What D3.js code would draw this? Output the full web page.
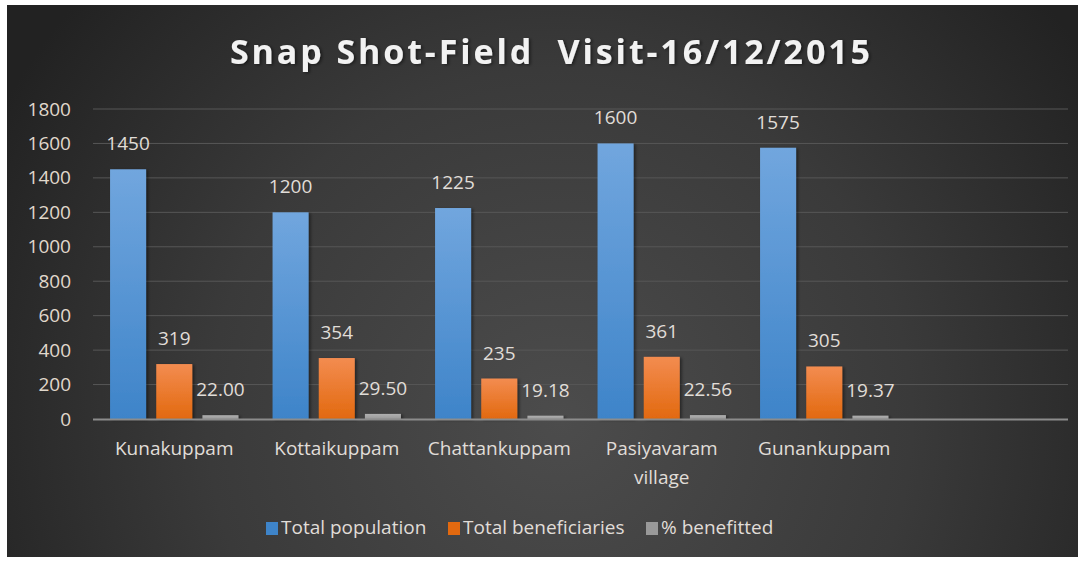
<!DOCTYPE html>
<html>
<head>
<meta charset="utf-8">
<script src="https://cdn.jsdelivr.net/npm/d3@7"></script>
<style>
  html, body { margin: 0; padding: 0; background: #fff; }
  svg text { font-family: "Open Sans", "DejaVu Sans", sans-serif; }
</style>
</head>
<body>
<div id="chart"></div>
<script>
// data
const categories = ["Kunakuppam", "Kottaikuppam", "Chattankuppam", "Pasiyavaram village", "Gunankuppam", ""];
const seriesNames = ["Total population", "Total beneficiaries", "% benefitted"];
const totalPopulation = [1450, 1200, 1225, 1600, 1575];
const totalBeneficiaries = [319, 354, 235, 361, 305];
const pctBenefitted = [22.00, 29.50, 19.18, 22.56, 19.37];
const yTicks = [0, 200, 400, 600, 800, 1000, 1200, 1400, 1600, 1800];
const title = "Snap Shot-Field  Visit-16/12/2015";

const W = 1083, H = 562;
const svg = d3.select("#chart").append("svg")
  .attr("width", W).attr("height", H);

const defs = svg.append("defs");

// 1) background gradient
const bg = defs.append("radialGradient")
  .attr("id", "bg").attr("gradientUnits", "userSpaceOnUse")
  .attr("cx", 560).attr("cy", 420).attr("r", 640);
bg.append("stop").attr("offset", "0%").attr("stop-color", "#4c4c4c");
bg.append("stop").attr("offset", "55%").attr("stop-color", "#3a3a3a");
bg.append("stop").attr("offset", "100%").attr("stop-color", "#222222");

// bar gradients
const barColors = [["#71a6de", "#3e84c9"], ["#f38c50", "#e2690f"], ["#b0b0b0", "#999999"]];
barColors.forEach((c, i) => {
  const g = defs.append("linearGradient").attr("id", "bar" + i)
    .attr("x1", 0).attr("y1", 0).attr("x2", 0).attr("y2", 1);
  g.append("stop").attr("offset", "0%").attr("stop-color", c[0]);
  g.append("stop").attr("offset", "100%").attr("stop-color", c[1]);
});

const shadow = defs.append("filter").attr("id", "shadow")
  .attr("x", "-20%").attr("y", "-20%").attr("width", "140%").attr("height", "140%");
shadow.append("feDropShadow").attr("dx", 2).attr("dy", 1).attr("stdDeviation", 1.5)
  .attr("flood-color", "#000").attr("flood-opacity", 0.45);

svg.append("rect")
  .attr("x", 7).attr("y", 5).attr("width", 1071).attr("height", 552)
  .attr("fill", "url(#bg)");

// 2) title (keep the double space)
svg.append("text")
  .attr("x", 550).attr("y", 64)
  .attr("text-anchor", "middle")
  .attr("font-size", 34).attr("font-weight", "bold")
  .attr("fill", "#f2f2f2")
  .style("white-space", "pre")
  .attr("textLength", 640).attr("lengthAdjust", "spacing")
  .attr("filter", "url(#shadow)")
  .text(title);

// 3) scales
const plot = { left: 93, right: 1068, top: 109, bottom: 419 };
const x = d3.scaleBand().domain(d3.range(categories.length))
  .range([plot.left, plot.right]).paddingInner(0.21).paddingOuter(0.105);
const xs = d3.scaleBand().domain(d3.range(3))
  .range([0, x.bandwidth()]).paddingInner(0.22);
const y = d3.scaleLinear().domain([0, 1800]).range([plot.bottom, plot.top]);

// gridlines
svg.append("g").selectAll("line")
  .data(yTicks.filter(t => t > 0))
  .join("line")
  .attr("x1", plot.left).attr("x2", plot.right)
  .attr("y1", d => y(d)).attr("y2", d => y(d))
  .attr("stroke", "#575757").attr("stroke-width", 1);

// y axis labels
const yAxis = svg.append("g")
  .attr("transform", `translate(${plot.left},0)`)
  .call(d3.axisLeft(y).tickValues(yTicks).tickFormat(d3.format("d")).tickSize(0).tickPadding(22));
yAxis.select(".domain").remove();
yAxis.selectAll("text")
  .attr("font-size", 19).attr("fill", "#e0d8cc")
  .attr("font-family", "\"Open Sans\", sans-serif");

// 4) bars
const series = [totalPopulation, totalBeneficiaries, pctBenefitted];
const rows = [];
series.forEach((vals, s) => vals.forEach((v, i) => rows.push({ s, i, v })));

svg.append("g").selectAll("rect")
  .data(rows)
  .join("rect")
  .attr("x", d => x(d.i) + xs(d.s))
  .attr("y", d => y(d.v))
  .attr("width", xs.bandwidth())
  .attr("height", d => y(0) - y(d.v))
  .attr("fill", d => `url(#bar${d.s})`)
  .attr("filter", "url(#shadow)");

// axis line
svg.append("line")
  .attr("x1", plot.left).attr("x2", plot.right)
  .attr("y1", y(0) + 0.5).attr("y2", y(0) + 0.5)
  .attr("stroke", "#8c8c8c").attr("stroke-width", 2);

// data labels
svg.append("g").selectAll("text")
  .data(rows)
  .join("text")
  .attr("x", d => x(d.i) + xs(d.s) + xs.bandwidth() / 2)
  .attr("y", d => y(d.v) - 19)
  .attr("text-anchor", "middle")
  .attr("font-size", 19).attr("fill", "#e0ddd8")
  .text(d => d.s === 2 ? d.v.toFixed(2) : d.v);

// 5) category labels, wrapped to band width
const catG = svg.append("g");
categories.forEach((c, i) => {
  const t = catG.append("text")
    .attr("x", x(i) + x.bandwidth() / 2)
    .attr("y", 455)
    .attr("text-anchor", "middle")
    .attr("font-size", 19).attr("fill", "#e0ddd8");
  const words = c.split(" ");
  let line = [];
  let tspan = t.append("tspan").attr("x", x(i) + x.bandwidth() / 2).attr("dy", 0);
  words.forEach(w => {
    line.push(w);
    tspan.text(line.join(" "));
    if (tspan.node().getComputedTextLength() > x.step() && line.length > 1) {
      line.pop();
      tspan.text(line.join(" "));
      line = [w];
      tspan = t.append("tspan").attr("x", x(i) + x.bandwidth() / 2)
        .attr("dy", 29).text(w);
    }
  });
});

// 6) legend
const legendX = [266, 448, 646];
const legend = svg.append("g").selectAll("g")
  .data(seriesNames)
  .join("g")
  .attr("transform", (d, i) => `translate(${legendX[i]},522)`);
legend.append("rect")
  .attr("width", 12).attr("height", 13)
  .attr("fill", (d, i) => barColors[i][1]);
legend.append("text")
  .attr("x", 15).attr("y", 12)
  .attr("font-size", 19).attr("fill", "#e0ddd8")
  .text(d => d);
</script>
</body>
</html>
